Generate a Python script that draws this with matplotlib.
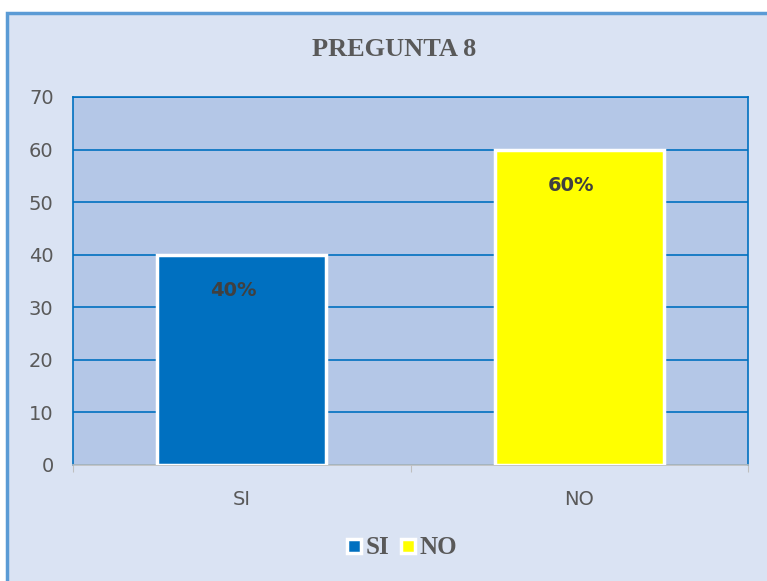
import matplotlib
matplotlib.use("Agg")
import matplotlib.pyplot as plt
from matplotlib.patches import Rectangle
from matplotlib.lines import Line2D

categories = ["SI", "NO"]
values = [40, 60]
labels = ["40%", "60%"]
colors = ["#0070C0", "#FFFF00"]
yticks = [0, 10, 20, 30, 40, 50, 60, 70]

W, H = 767, 581
fig = plt.figure(figsize=(W / 100, H / 100), dpi=100)
fig.patch.set_facecolor("white")

# chart frame, clipped at right/bottom like the source
fig.patches.append(Rectangle((7 / W, -0.05), 1.1, 1.05 - 13 / H,
                             transform=fig.transFigure, facecolor="#DAE3F3",
                             edgecolor="#5B9BD5", lw=2.5, zorder=-5))

ax = fig.add_axes([73 / W, 1 - 465 / H, 675 / W, 368 / H])
ax.set_zorder(1)
ax.set_facecolor("#B4C7E7")

x = list(range(len(categories)))
ax.bar(x, values, width=0.5, color=colors, edgecolor="white", lw=2.5, zorder=3)
for xi, v, lab in zip(x, values, labels):
    ax.annotate(lab, (xi, v), xytext=(-6, -26), textcoords="offset points",
                ha="center", va="center", fontsize=14, fontweight="bold",
                color="#404040", zorder=4)

ax.set_xlim(-0.5, 1.5)
ax.set_ylim(0, 70)
ax.set_yticks(yticks)
ax.yaxis.grid(True, color="#0070C0", lw=1.2, zorder=1)
ax.set_axisbelow(True)
ax.tick_params(axis="y", length=0, pad=14, labelsize=14, labelcolor="#595959")
ax.set_xticks([-0.5, 0.5, 1.5], minor=False)
ax.set_xticklabels([])
ax.set_xticks(x, minor=True)
ax.set_xticklabels(categories, minor=True)
ax.tick_params(axis="x", which="major", length=5, color="#BFBFBF", direction="out")
ax.tick_params(axis="x", which="minor", length=0, pad=18, labelsize=14, labelcolor="#595959")

for s in ["left", "right", "top"]:
    ax.spines[s].set_color("#0070C0")
    ax.spines[s].set_linewidth(1.2)
ax.spines["bottom"].set_color("#BFBFBF")
ax.spines["bottom"].set_linewidth(1.2)

fig.text(394 / W, 1 - 50 / H, "PREGUNTA 8", ha="center", va="center",
         fontsize=19, fontweight="bold", color="#595959", family="Liberation Serif")

handles = [Line2D([], [], marker="s", ls="none", markersize=10, markerfacecolor=c,
                  markeredgecolor="white", markeredgewidth=2.5) for c in colors]
leg = fig.legend(handles, categories, loc="center", bbox_to_anchor=(400 / W, 1 - 548 / H),
                 ncol=2, frameon=False, handletextpad=0.0, columnspacing=0.3,
                 handlelength=0.9, prop={"family": "Liberation Serif", "weight": "bold", "size": 18})
for t in leg.get_texts():
    t.set_color("#595959")

fig.savefig("out.png", dpi=100)
